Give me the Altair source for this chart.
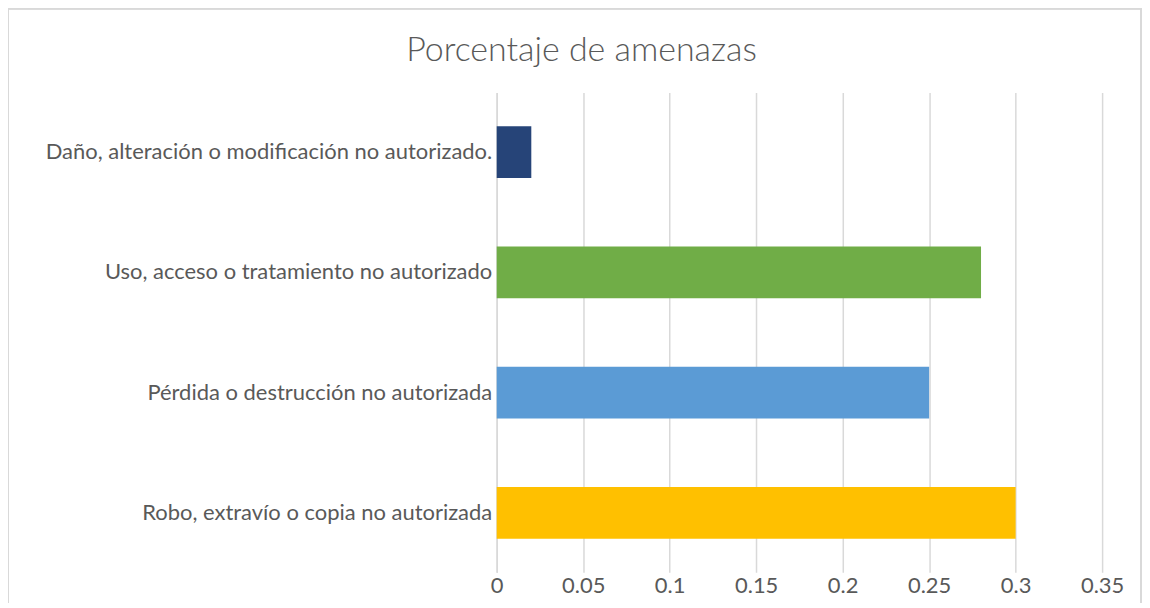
import altair as alt
import pandas as pd

title_text = "Porcentaje de amenazas"
categories = [
    "Daño, alteración o modificación no autorizado.",
    "Uso, acceso o tratamiento no autorizado",
    "Pérdida o destrucción no autorizada",
    "Robo, extravío o copia no autorizada",
]
values = [0.02, 0.28, 0.25, 0.30]
colors = ["#264478", "#70AD47", "#5B9BD5", "#FFC000"]
x_ticks = [0, 0.05, 0.1, 0.15, 0.2, 0.25, 0.3, 0.35]

df = pd.DataFrame({"cat": categories, "val": values, "color": colors})

font = "Lato"
grey = "#595959"

bars = alt.Chart(df).mark_bar().encode(
    y=alt.Y("cat:N", sort=categories, title=None,
            scale=alt.Scale(paddingInner=0.57, paddingOuter=0.28),
            axis=alt.Axis(domain=True, domainColor="#d9d9d9", domainWidth=1.5,
                          ticks=False, labelFontSize=22, labelColor=grey,
                          labelFont=font, labelPadding=5, labelLimit=600)),
    x=alt.X("val:Q", title=None,
            scale=alt.Scale(domain=[0, 0.35], nice=False),
            axis=alt.Axis(values=x_ticks, domain=False, ticks=False,
                          grid=True, gridColor="#d9d9d9", gridWidth=1.5,
                          labelFontSize=22, labelColor=grey, labelFont=font,
                          labelPadding=3, format="~g", labelFlush=False)),
    color=alt.Color("color:N", scale=None, legend=None),
)

frame = alt.Chart(df).mark_rect(fill="transparent", stroke="#d9d9d9", strokeWidth=1.5).encode(
    x=alt.value(-490), x2=alt.value(646), y=alt.value(-84), y2=alt.value(514)
)

title = alt.Chart(pd.DataFrame({"t": [title_text]})).mark_text(
    font=font, fontSize=34, fontWeight=300, color=grey, align="center", baseline="middle"
).encode(text="t:N", x=alt.value(85), y=alt.value(-42))

chart = alt.layer(frame, bars, title).properties(
    width=607,
    height=481,
    autosize=alt.AutoSizeParams(type="none"),
    padding={"left": 490, "top": 84, "right": 40, "bottom": 30},
).configure_view(stroke=None)

chart.save("out.html", embed_options={"renderer": "svg", "actions": False})
